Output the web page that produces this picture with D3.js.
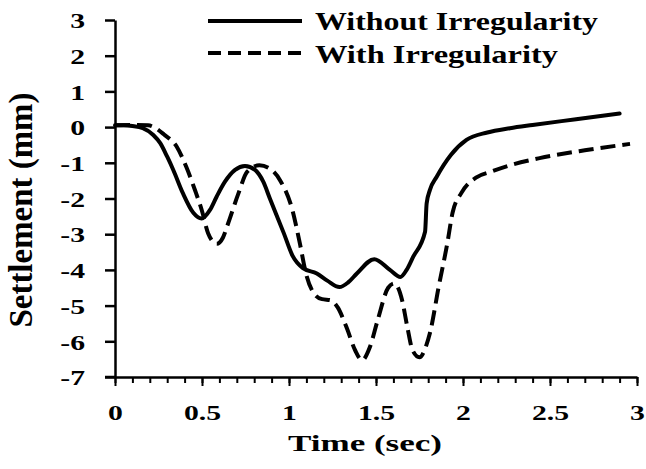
<!DOCTYPE html>
<meta charset="UTF-8">
<head>
  <script src="https://cdnjs.cloudflare.com/ajax/libs/d3/7.8.5/d3.min.js"></script>
</head>
<style>
  body { margin: 0; background: #fff; }
  svg text { font-family: "Liberation Serif", "Times New Roman", serif; font-weight: bold; fill: #000; }
</style>
<body>
<div id="chart"></div>
<script>
// series: Without Irregularity (solid)
var timeWithout = [0, 0.05, 0.10, 0.16, 0.22, 0.26, 0.30, 0.335, 0.39, 0.45, 0.498, 0.546, 0.584, 0.632, 0.69, 0.747, 0.805, 0.852, 0.89, 0.97, 1.02, 1.08, 1.16, 1.22, 1.29, 1.34, 1.39, 1.49, 1.58, 1.64, 1.676, 1.714, 1.782, 1.791, 1.81, 1.849, 1.93, 2.02, 2.14, 2.27, 2.40, 2.65, 2.90];
var settleWithout = [0.05, 0.05, 0.03, -0.03, -0.22, -0.45, -0.83, -1.2, -1.85, -2.4, -2.56, -2.32, -1.95, -1.53, -1.2, -1.09, -1.2, -1.53, -2.0, -2.97, -3.6, -3.95, -4.1, -4.3, -4.48, -4.35, -4.1, -3.7, -4.0, -4.2, -4.0, -3.63, -2.93, -2.14, -1.76, -1.39, -0.78, -0.36, -0.15, -0.03, 0.06, 0.22, 0.38];

// series: With Irregularity (dashed)
var timeWith = [0, 0.10, 0.19, 0.24, 0.28, 0.355, 0.41, 0.46, 0.50, 0.535, 0.585, 0.62, 0.65, 0.71, 0.76, 0.83, 0.90, 0.95, 1.02, 1.06, 1.10, 1.15, 1.19, 1.24, 1.28, 1.33, 1.38, 1.42, 1.465, 1.51, 1.57, 1.605, 1.65, 1.68, 1.71, 1.75, 1.79, 1.81, 1.86, 1.91, 1.94, 1.99, 2.08, 2.16, 2.27, 2.44, 2.70, 2.96];
var settleWith = [0.05, 0.06, 0.05, -0.05, -0.2, -0.55, -1.12, -1.77, -2.35, -2.97, -3.27, -3.1, -2.7, -1.85, -1.25, -1.07, -1.2, -1.5, -2.33, -3.2, -4.15, -4.7, -4.82, -4.85, -5.05, -5.6, -6.25, -6.53, -6.16, -5.4, -4.5, -4.38, -4.85, -5.6, -6.25, -6.45, -6.1, -5.77, -4.48, -3.25, -2.4, -1.85, -1.4, -1.25, -1.07, -0.87, -0.65, -0.47];

var xTicks = [0, 0.5, 1, 1.5, 2, 2.5, 3];
var yTicks = [3, 2, 1, 0, -1, -2, -3, -4, -5, -6, -7];
var seriesNames = ["Without Irregularity", "With Irregularity"];

var width = 646, height = 469;
var svg = d3.select("#chart").append("svg")
  .attr("width", width)
  .attr("height", height);

var x = d3.scaleLinear().domain([0, 3]).range([115, 637]);
var y = d3.scaleLinear().domain([-7, 3]).range([377, 20]);

// plain hyphen for negatives, like the original
var fmt = function(d) { return String(d); };

// minor x ticks
svg.append("g")
  .attr("transform", "translate(0," + y(-7) + ")")
  .call(d3.axisBottom(x).tickValues(d3.range(0, 30.5).map(function(d) { return d / 10; }))
    .tickSize(6).tickSizeOuter(0).tickFormat(""))
  .call(function(g) {
    g.select(".domain").attr("stroke-width", 2.5);
    g.selectAll(".tick line").attr("stroke-width", 2);
  });

// major x ticks + labels
svg.append("g")
  .attr("transform", "translate(0," + y(-7) + ")")
  .call(d3.axisBottom(x).tickValues(xTicks).tickSize(9).tickSizeOuter(0).tickFormat(fmt))
  .call(function(g) {
    g.select(".domain").remove();
    g.selectAll(".tick line").attr("stroke-width", 2);
    g.selectAll(".tick text")
      .attr("y", 0).attr("dy", null)
      .attr("font-size", 22)
      .attr("transform", "translate(0,43) scale(1.35,1)");
  });

// y axis
svg.append("g")
  .attr("transform", "translate(" + x(0) + ",0)")
  .call(d3.axisLeft(y).tickValues(yTicks).tickSize(10).tickSizeOuter(0).tickFormat(fmt))
  .call(function(g) {
    g.select(".domain").attr("stroke-width", 2.5);
    g.selectAll(".tick line").attr("stroke-width", 2.5);
    g.selectAll(".tick text")
      .attr("x", 0).attr("dy", "0.35em")
      .attr("font-size", 22)
      .attr("transform", "translate(-30,0) scale(1.35,1)");
  });

// extend x axis line to the left tick
svg.append("line")
  .attr("x1", x(0) - 10).attr("x2", x(0))
  .attr("y1", y(-7)).attr("y2", y(-7))
  .attr("stroke", "#000").attr("stroke-width", 2.5);

var line = d3.line()
  .x(function(d) { return x(d[0]); })
  .y(function(d) { return y(d[1]); })
  .curve(d3.curveMonotoneX);

svg.append("path")
  .datum(d3.zip(timeWithout, settleWithout))
  .attr("d", line)
  .attr("fill", "none")
  .attr("stroke", "#000")
  .attr("stroke-width", 4)
  .attr("stroke-linecap", "round");

svg.append("path")
  .datum(d3.zip(timeWith, settleWith))
  .attr("d", line)
  .attr("fill", "none")
  .attr("stroke", "#000")
  .attr("stroke-width", 4)
  .attr("stroke-dasharray", "15,7");

// axis titles
svg.append("text")
  .attr("x", 365).attr("y", 451)
  .attr("text-anchor", "middle")
  .attr("font-size", 24)
  .attr("textLength", 154).attr("lengthAdjust", "spacingAndGlyphs")
  .text("Time (sec)");

svg.append("text")
  .attr("transform", "translate(32,210) rotate(-90)")
  .attr("text-anchor", "middle")
  .attr("font-size", 34)
  .attr("textLength", 235).attr("lengthAdjust", "spacingAndGlyphs")
  .text("Settlement (mm)");

// legend
var legend = svg.append("g");
var legRows = [
  { name: seriesNames[0], dash: null, ly: 21, ty: 30, len: 283 },
  { name: seriesNames[1], dash: "13,7", ly: 53, ty: 63, len: 243 }
];
legRows.forEach(function(r) {
  legend.append("line")
    .attr("x1", 208).attr("x2", 302)
    .attr("y1", r.ly).attr("y2", r.ly)
    .attr("stroke", "#000").attr("stroke-width", 4)
    .attr("stroke-dasharray", r.dash);
  legend.append("text")
    .attr("x", 315).attr("y", r.ty)
    .attr("font-size", 25)
    .attr("textLength", r.len).attr("lengthAdjust", "spacingAndGlyphs")
    .text(r.name);
});
</script>
</body>
</html>
